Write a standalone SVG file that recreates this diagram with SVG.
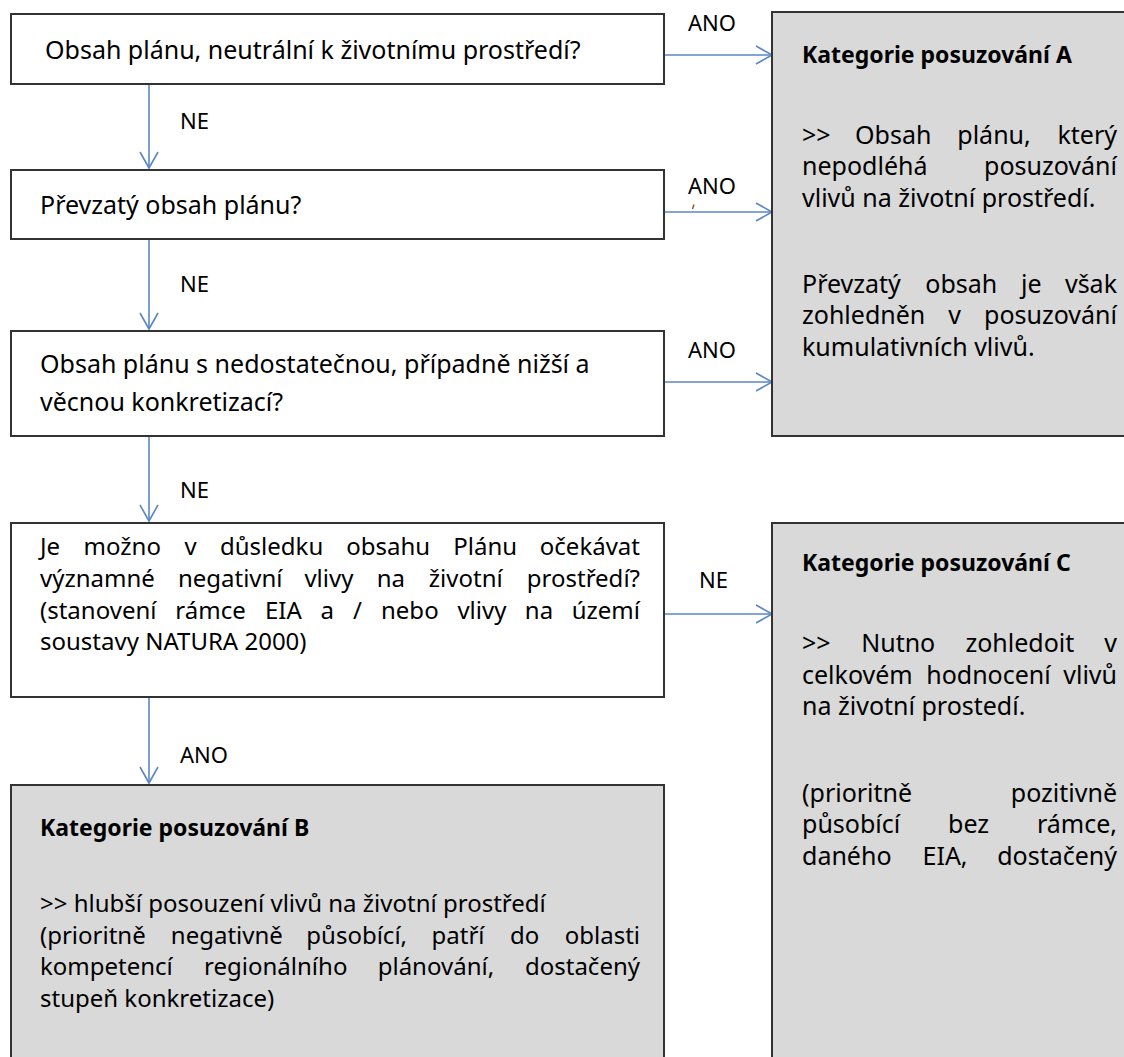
<svg xmlns="http://www.w3.org/2000/svg" width="1124" height="1057" viewBox="0 0 1124 1057">
<defs>
<style>
text{font-family:"Noto Sans","Open Sans",sans-serif;fill:#000}
.t{font-size:25px}
.s{font-size:24px}
.b{font-size:23px;font-weight:bold}
.lbl{font-size:22px}
.e{text-anchor:end}
.box{fill:#fff;stroke:#333;stroke-width:2}
.cat{fill:#d9d9d9;stroke:#333;stroke-width:2}
.con{stroke:#5b87c5;stroke-width:1.6;fill:none}
</style>
<marker id="arr" markerUnits="userSpaceOnUse" markerWidth="20" markerHeight="22" refX="17" refY="10" orient="auto">
<path d="M1,1 L17,10 L1,19" fill="none" stroke="#5b87c5" stroke-width="1.6"/>
</marker>
</defs>
<rect width="1124" height="1057" fill="#fff"/>

<g id="connectors">
<line class="con" x1="149" y1="84" x2="149" y2="168" marker-end="url(#arr)"/>
<line class="con" x1="149" y1="239" x2="149" y2="329" marker-end="url(#arr)"/>
<line class="con" x1="149" y1="436" x2="149" y2="521" marker-end="url(#arr)"/>
<line class="con" x1="149" y1="697" x2="149" y2="783" marker-end="url(#arr)"/>
<line class="con" x1="664" y1="55" x2="772" y2="55" marker-end="url(#arr)"/>
<line class="con" x1="664" y1="212" x2="772" y2="212" marker-end="url(#arr)"/>
<line class="con" x1="664" y1="382" x2="772" y2="382" marker-end="url(#arr)"/>
<line class="con" x1="664" y1="614" x2="772" y2="614" marker-end="url(#arr)"/>
<text class="lbl" x="180" y="129">NE</text>
<text class="lbl" x="180" y="292">NE</text>
<text class="lbl" x="180" y="498">NE</text>
<text class="lbl" x="180" y="763">ANO</text>
<text class="lbl" x="688" y="31">ANO</text>
<text class="lbl" x="688" y="194">ANO</text>
<path d="M692.5,209 L694,204.5" stroke="#8a5a30" stroke-width="1.5"/>
<text class="lbl" x="688" y="358">ANO</text>
<text class="lbl" x="699" y="588">NE</text>
</g>

<g id="q1">
<rect class="box" x="11" y="14" width="653" height="70"/>
<text class="t" x="45" y="59">Obsah plánu, neutrální k životnímu prostředí?</text>
</g>

<g id="q2">
<rect class="box" x="11" y="170" width="653" height="69"/>
<text class="t" x="40" y="214">Převzatý obsah plánu?</text>
</g>

<g id="q3">
<rect class="box" x="11" y="331" width="653" height="105"/>
<text class="t" x="40" y="373">Obsah plánu s nedostatečnou, případně nižší a</text>
<text class="t" x="40" y="411">věcnou konkretizací?</text>
</g>

<g id="q4">
<rect class="box" x="11" y="523" width="653" height="174"/>
<text class="s" y="555"><tspan x="40">Je</tspan><tspan x="83.6">možno</tspan><tspan x="184.4">v</tspan><tspan x="220">důsledku</tspan><tspan x="346.2">obsahu</tspan><tspan x="453.3">Plánu</tspan></text>
<text class="s e" x="640" y="555">očekávat</text>
<text class="s" y="587"><tspan x="40">významné</tspan><tspan x="177.9">negativní</tspan><tspan x="304.4">vlivy</tspan><tspan x="376.7">na</tspan><tspan x="428.8">životní</tspan></text>
<text class="s e" x="640" y="587">prostředí?</text>
<text class="s" y="619"><tspan x="40">(stanovení</tspan><tspan x="175.3">rámce</tspan><tspan x="265">EIA</tspan><tspan x="320.6">a</tspan><tspan x="353.1">/</tspan><tspan x="381">nebo</tspan><tspan x="457.4">vlivy</tspan><tspan x="524.8">na</tspan></text>
<text class="s e" x="640" y="619">území</text>
<text class="s" x="40" y="650">soustavy NATURA 2000)</text>
</g>

<g id="catA">
<rect class="cat" x="772" y="12" width="362" height="424"/>
<text class="b" x="802" y="63">Kategorie posuzování A</text>
<text class="t" y="144"><tspan x="802">&gt;&gt;</tspan><tspan x="855">Obsah</tspan><tspan x="957.3">plánu,</tspan></text>
<text class="t e" x="1117" y="144">který</text>
<text class="t" x="802" y="175">nepodléhá</text>
<text class="t e" x="1117" y="175">posuzování</text>
<text class="t" x="802" y="207">vlivů na životní prostředí.</text>
<text class="t" y="293"><tspan x="802">Převzatý</tspan><tspan x="925.3">obsah</tspan><tspan x="1021">je</tspan></text>
<text class="t e" x="1117" y="293">však</text>
<text class="t" y="324"><tspan x="802">zohledněn</tspan><tspan x="948.3">v</tspan></text>
<text class="t e" x="1117" y="324">posuzování</text>
<text class="t" x="802" y="356">kumulativních vlivů.</text>
</g>

<g id="catC">
<rect class="cat" x="772" y="523" width="362" height="550"/>
<text class="b" x="802" y="571">Kategorie posuzování C</text>
<text class="t" y="652"><tspan x="802">&gt;&gt;</tspan><tspan x="861.2">Nutno</tspan><tspan x="965.4">zohledoit</tspan></text>
<text class="t e" x="1117" y="652">v</text>
<text class="t" y="684"><tspan x="802">celkovém</tspan><tspan x="926.2">hodnocení</tspan></text>
<text class="t e" x="1117" y="684">vlivů</text>
<text class="t" x="802" y="715">na životní prostedí.</text>
<text class="t" x="802" y="802">(prioritně</text>
<text class="t e" x="1117" y="802">pozitivně</text>
<text class="t" y="833"><tspan x="802">působící</tspan><tspan x="948.1">bez</tspan></text>
<text class="t e" x="1117" y="833">rámce,</text>
<text class="t" y="865"><tspan x="802">daného</tspan><tspan x="922.5">EIA,</tspan></text>
<text class="t e" x="1117" y="865">dostačený</text>
</g>

<g id="catB">
<rect class="cat" x="11" y="785" width="653" height="290"/>
<text class="b" x="40" y="836">Kategorie posuzování B</text>
<text class="s" x="40" y="912">&gt;&gt; hlubší posouzení vlivů na životní prostředí</text>
<text class="s" y="944"><tspan x="40">(prioritně</tspan><tspan x="170.8">negativně</tspan><tspan x="306.3">působící,</tspan><tspan x="431.5">patří</tspan><tspan x="509.9">do</tspan></text>
<text class="s e" x="640" y="944">oblasti</text>
<text class="s" y="975"><tspan x="40">kompetencí</tspan><tspan x="204.1">regionálního</tspan><tspan x="377.7">plánování,</tspan></text>
<text class="s e" x="640" y="975">dostačený</text>
<text class="s" x="40" y="1007">stupeň konkretizace)</text>
</g>
</svg>
